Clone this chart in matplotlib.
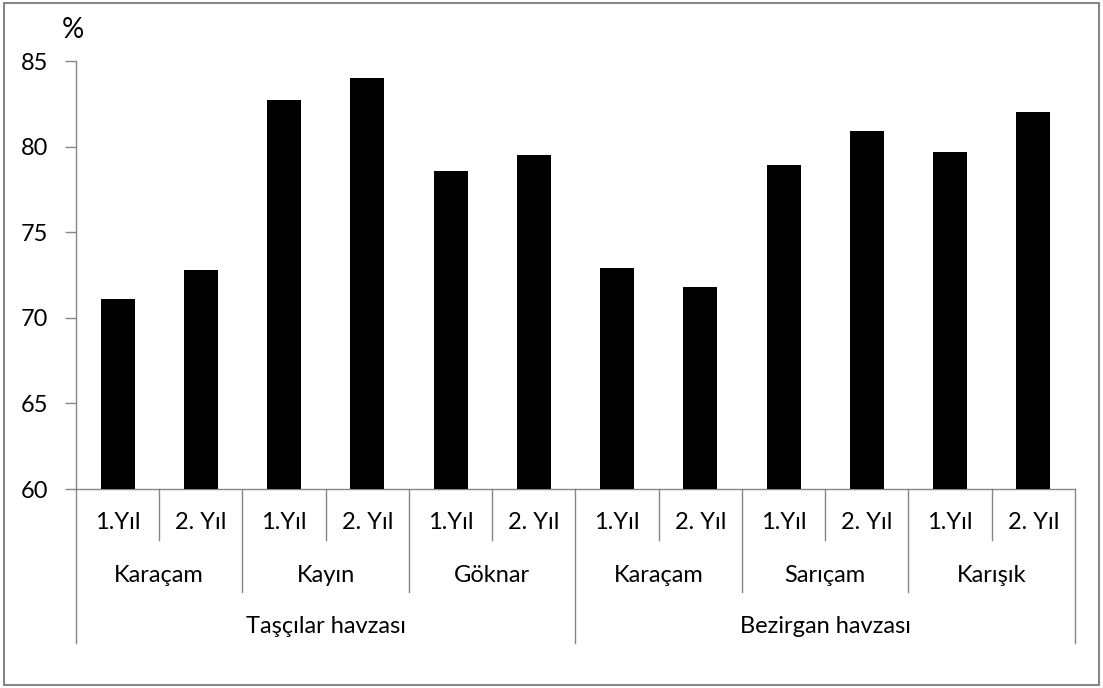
import matplotlib
matplotlib.use('Agg')
from matplotlib import pyplot as plt
from matplotlib.patches import Rectangle

# data
years = ['1.Yıl', '2. Yıl'] * 6
species = ['Karaçam', 'Kayın', 'Göknar', 'Karaçam', 'Sarıçam', 'Karışık']
basins = ['Taşçılar havzası', 'Bezirgan havzası']
values = [71.1, 72.8, 82.7, 84.0, 78.6, 79.5, 72.9, 71.8, 78.9, 80.9, 79.7, 82.0]
yticks = [60, 65, 70, 75, 80, 85]

plt.rcParams['font.family'] = ['Lato', 'DejaVu Sans']
gray = '#868686'
fs = 17

fig = plt.figure(figsize=(11.03, 6.88), dpi=100)
ax = fig.add_axes([0.0689, 0.2892, 0.9057, 0.6221])

x = list(range(len(values)))
ax.bar(x, values, width=0.41, color='black', zorder=3)
ax.set_xlim(-0.5, len(values) - 0.5)
ax.set_ylim(60, 85)
ax.set_yticks(yticks)
ax.tick_params(axis='y', labelsize=fs, length=8, width=1, color=gray, pad=12)
ax.set_xticks([])

for side in ['top', 'right']:
  ax.spines[side].set_visible(False)
for side in ['left', 'bottom']:
  ax.spines[side].set_color(gray)
  ax.spines[side].set_linewidth(1)

tr = ax.get_xaxis_transform()

# multi-level category axis
lvl_end = [-0.119, -0.2407, -0.36]
lvl_text = [-0.079, -0.203, -0.322]

for i in range(len(values) + 1):
  b = i - 0.5
  if i % 6 == 0:
    end = lvl_end[2]
  elif i % 2 == 0:
    end = lvl_end[1]
  else:
    end = lvl_end[0]
  ax.plot([b, b], [0, end], color=gray, lw=1, transform=tr, clip_on=False)

for i, label in enumerate(years):
  ax.text(i, lvl_text[0], label, transform=tr, ha='center', va='center', fontsize=fs)

for j, label in enumerate(species):
  ax.text(2 * j + 0.5, lvl_text[1], label, transform=tr, ha='center', va='center', fontsize=fs)

for k, label in enumerate(basins):
  ax.text(6 * k + 2.5, lvl_text[2], label, transform=tr, ha='center', va='center', fontsize=fs)

ax.text(-0.003, 1.072, '%', transform=ax.transAxes, ha='center', va='center', fontsize=20)

# chart border
fig.patches.append(Rectangle((0.004, 0.004), 0.992, 0.992, transform=fig.transFigure,
                             fill=False, edgecolor=gray, lw=1.5))

fig.savefig('out.png', dpi=100)
